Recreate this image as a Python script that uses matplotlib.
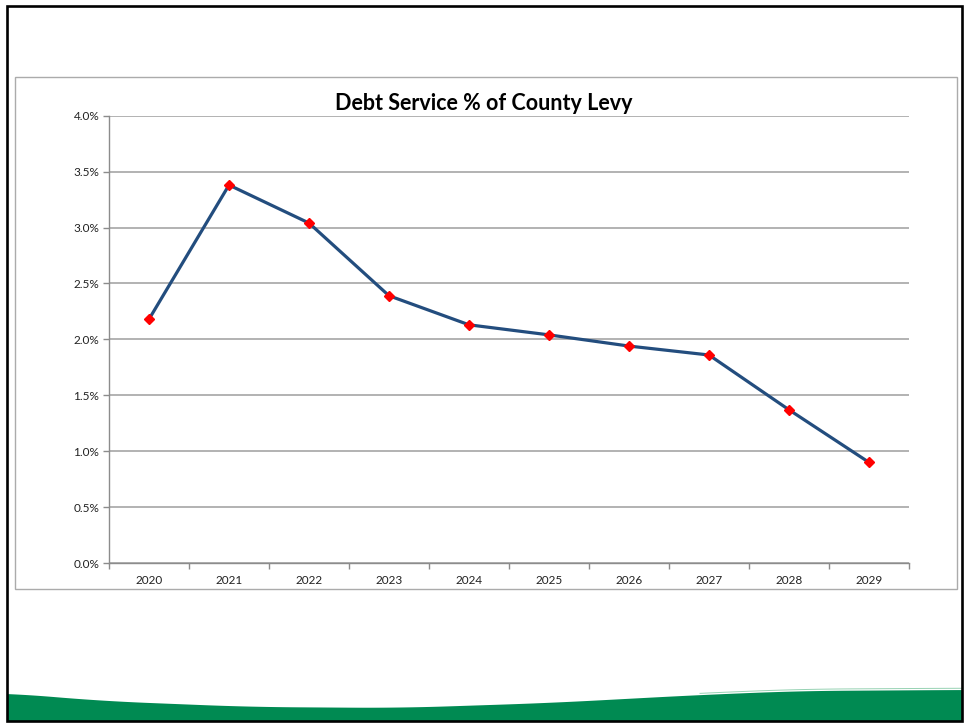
import numpy as np
import matplotlib
matplotlib.use("Agg")
import matplotlib.pyplot as plt
from matplotlib.patches import Rectangle, Polygon
from matplotlib.ticker import FixedLocator, FuncFormatter

years = ["2020", "2021", "2022", "2023", "2024", "2025", "2026", "2027", "2028", "2029"]
debt_pct = [2.18, 3.38, 3.04, 2.39, 2.13, 2.04, 1.94, 1.86, 1.37, 0.90]
y_ticks = [0.0, 0.5, 1.0, 1.5, 2.0, 2.5, 3.0, 3.5, 4.0]
title = "Debt Service % of County Levy"

W, H = 964, 724
plt.rcParams["font.family"] = ["Lato", "DejaVu Sans"]
fig = plt.figure(figsize=(W / 100, H / 100), dpi=100)

# Slide background layer in pixel coordinates
bg = fig.add_axes([0, 0, 1, 1])
bg.set_xlim(0, W)
bg.set_ylim(H, 0)
bg.axis("off")

# Green wave along the bottom of the slide
wx = np.array([7, 100, 250, 400, 550, 700, 800, 962])
wy = np.array([693, 701, 707, 708, 703, 695, 691, 690])
xs = np.linspace(7, 962, 300)
ys = np.interp(xs, wx, wy)
ys = np.convolve(np.pad(ys, 15, mode="edge"), np.ones(31) / 31, mode="valid")
wave = np.vstack([np.column_stack([xs, ys]), [[962, 721], [7, 721]]])
bg.add_patch(Polygon(wave, closed=True, facecolor="#008A52", edgecolor="none", zorder=1))
hx = np.linspace(700, 962, 100)
bg.plot(hx, np.interp(hx, xs, ys) - 1.8, color="#7CC7A0", lw=0.7, alpha=0.8, zorder=2)

# Slide frame and chart frame
bg.add_patch(Rectangle((7, 6), 955, 715, fill=False, edgecolor="black", lw=1.9, zorder=3))
bg.add_patch(Rectangle((15, 77), 942, 512, fill=False, edgecolor="#ABABAB", lw=1.0, zorder=3))
bg.text(484, 103, title, ha="center", va="center", fontsize=15.5, fontweight="bold", color="black")

# Plot area
ax = fig.add_axes([109 / W, (H - 563) / H, 800 / W, (563 - 115.7) / H])
ax.set_facecolor("none")
x = np.arange(len(years)) + 0.5
ax.plot(x, debt_pct, color="#234D7E", lw=2.3, zorder=3,
        marker="D", markersize=5.5, markerfacecolor="#FF0000", markeredgecolor="#FF0000")

ax.set_xlim(0, len(years))
ax.set_ylim(0, 4.0)
ax.set_yticks(y_ticks)
ax.yaxis.set_major_formatter(FuncFormatter(lambda v, p: f"{v:.1f}%"))
ax.grid(axis="y", color="#A6A6A6", lw=1.2)
ax.set_axisbelow(True)

ax.xaxis.set_major_locator(FixedLocator(np.arange(len(years) + 1)))
ax.xaxis.set_minor_locator(FixedLocator(x))
ax.set_xticklabels([])
ax.set_xticklabels(years, minor=True)
ax.tick_params(axis="x", which="major", length=4, width=1, color="#8C8C8C", direction="out")
ax.tick_params(axis="x", which="minor", length=0, pad=9, labelsize=8.5, labelcolor="#222222")
ax.tick_params(axis="y", length=4, width=1, color="#8C8C8C", labelsize=8.5, pad=3, labelcolor="#222222")

for side in ["top", "right"]:
    ax.spines[side].set_visible(False)
for side in ["left", "bottom"]:
    ax.spines[side].set_color("#8C8C8C")
    ax.spines[side].set_linewidth(1.0)

fig.savefig("out.png", dpi=100)
